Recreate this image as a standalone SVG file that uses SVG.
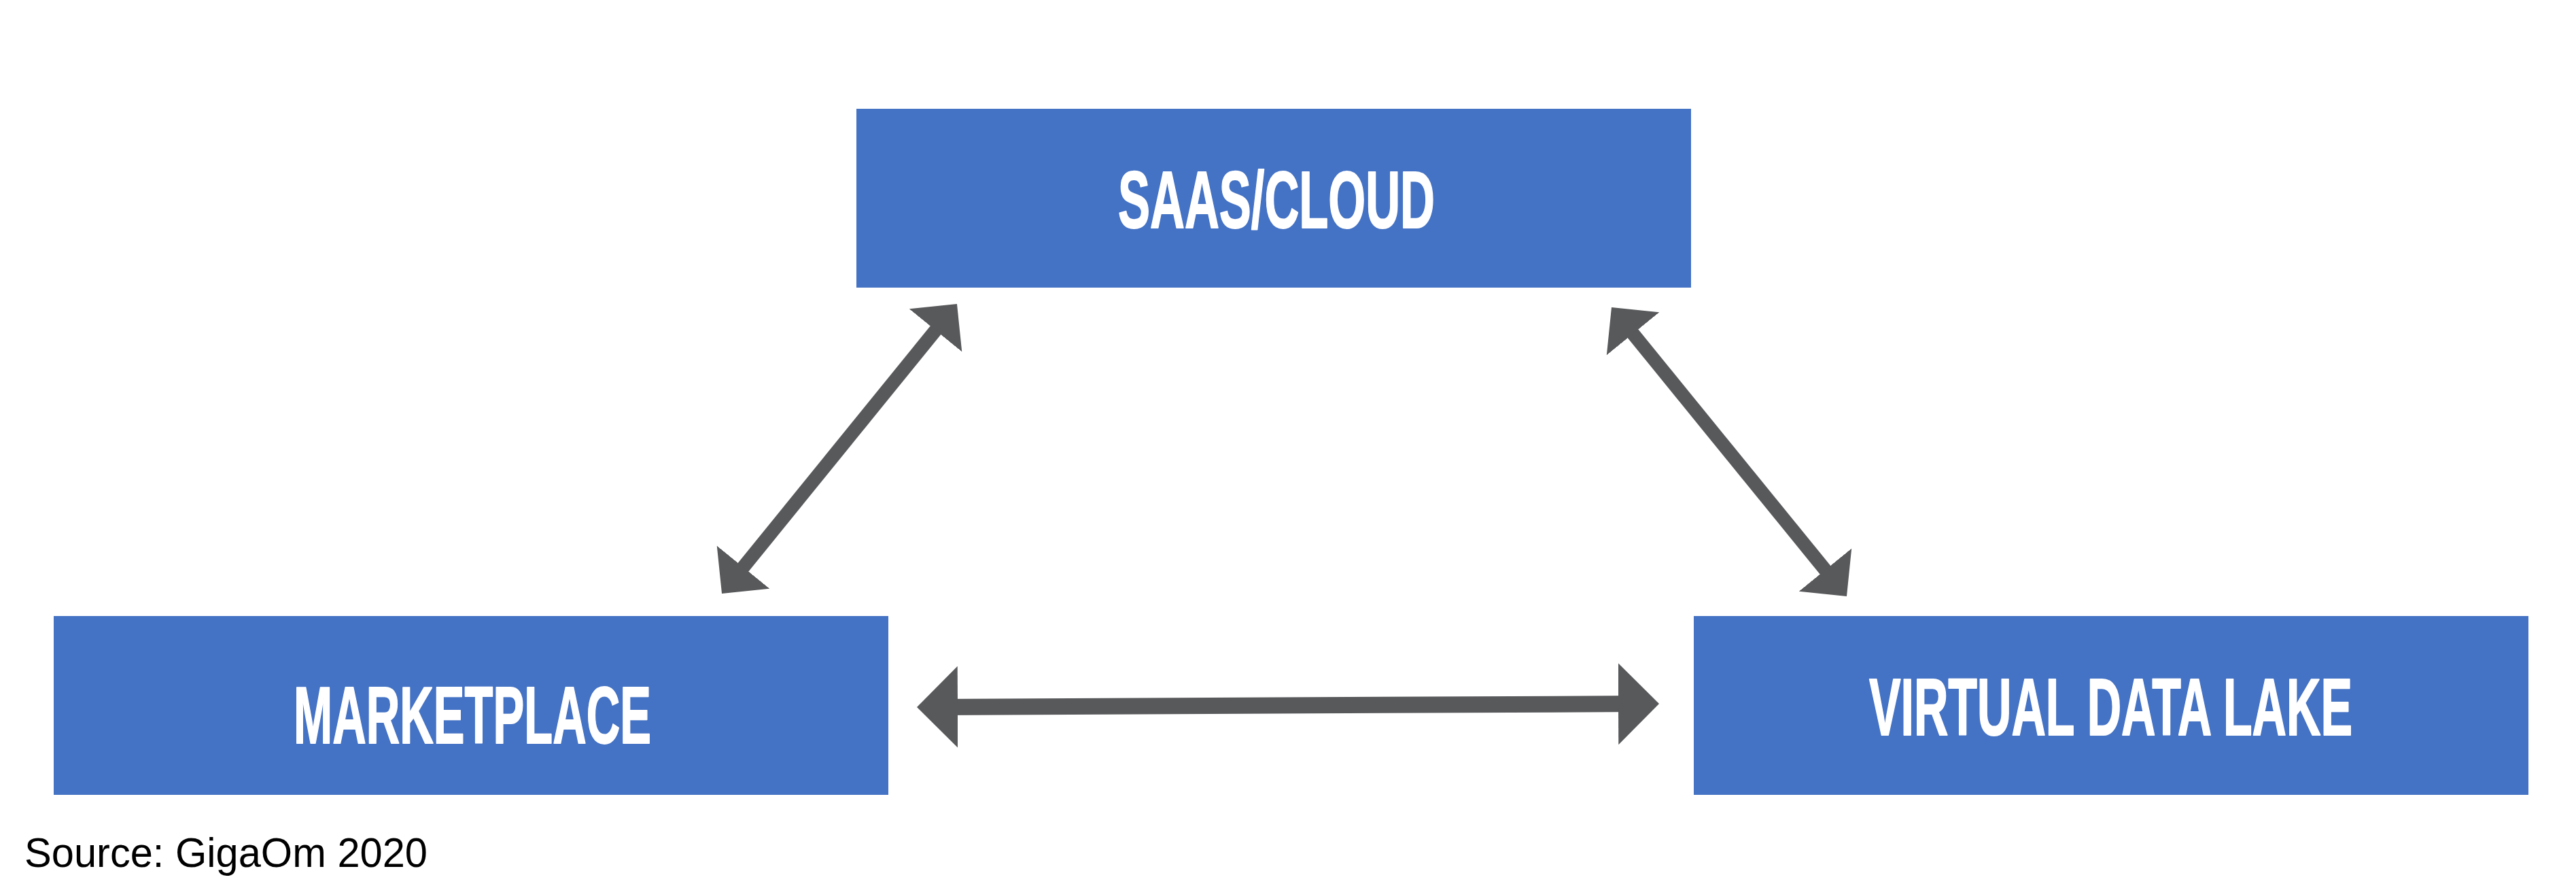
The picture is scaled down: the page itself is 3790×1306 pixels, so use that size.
<svg xmlns="http://www.w3.org/2000/svg" width="3790" height="1306" viewBox="0 0 3790 1306">
  <style>
    .box { fill: #4472C4; }
    .label { fill: #FFFFFF; stroke: #FFFFFF; stroke-width: 2px; stroke-linejoin: round; font-family: "Liberation Sans Narrow", "Liberation Sans", "DejaVu Sans Condensed", sans-serif; font-weight: bold; font-size: 119px; }
    .conn { stroke: #58595B; fill: none; stroke-linecap: butt; }
    .src { fill: #000000; font-family: "Liberation Sans", "DejaVu Sans", sans-serif; font-size: 62px; }
  </style>
  <defs>
    <marker id="head" markerUnits="strokeWidth" markerWidth="2.5" markerHeight="5" viewBox="0 0 2.5 5" refX="1.25" refY="2.5" orient="auto-start-reverse">
      <path d="M0,0 L2.5,2.5 L0,5 z" fill="#58595B"/>
    </marker>
  </defs>
  <rect width="3790" height="1306" fill="#FFFFFF"/>
  <g id="connectors">
    <line class="conn" x1="1077.8" y1="853.6" x2="1392.2" y2="466.4" stroke-width="20" marker-start="url(#head)" marker-end="url(#head)"/>
    <line class="conn" x1="2386.8" y1="471.4" x2="2701.2" y2="857.6" stroke-width="20" marker-start="url(#head)" marker-end="url(#head)"/>
    <line class="conn" x1="1379" y1="1039.9" x2="2411" y2="1035.1" stroke-width="24" marker-start="url(#head)" marker-end="url(#head)"/>
  </g>
  <g id="node-saas">
    <rect class="box" x="1260" y="160" width="1228" height="263"/>
    <text class="label" x="1645" y="335" textLength="466" lengthAdjust="spacingAndGlyphs">SAAS/CLOUD</text>
  </g>
  <g id="node-marketplace">
    <rect class="box" x="79" y="906" width="1228" height="263"/>
    <text class="label" x="432" y="1093" textLength="526" lengthAdjust="spacingAndGlyphs">MARKETPLACE</text>
  </g>
  <g id="node-vdl">
    <rect class="box" x="2492" y="906" width="1228" height="263"/>
    <text class="label" x="2750" y="1081" textLength="711" lengthAdjust="spacingAndGlyphs">VIRTUAL DATA LAKE</text>
  </g>
  <text class="src" x="36" y="1275" textLength="593" lengthAdjust="spacingAndGlyphs">Source: GigaOm 2020</text>
</svg>
